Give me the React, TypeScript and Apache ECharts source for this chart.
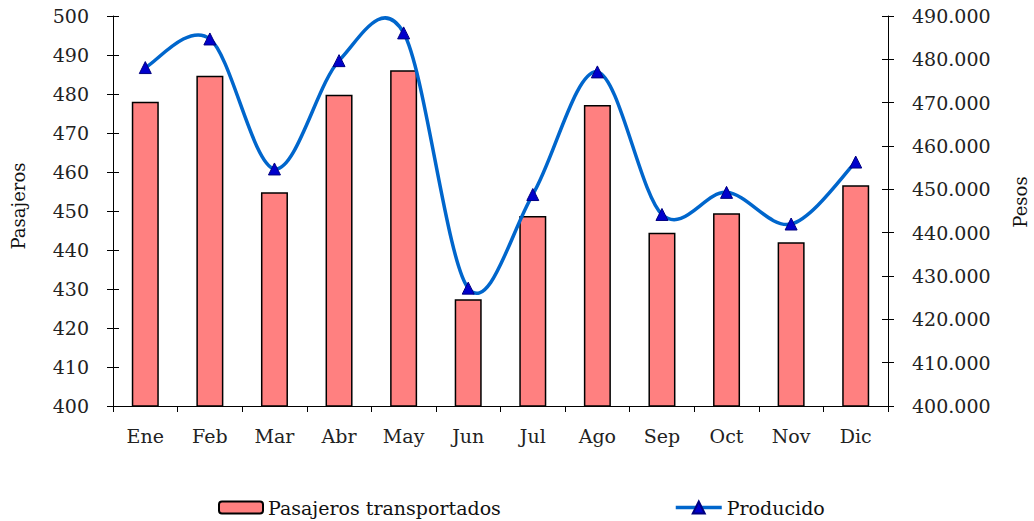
import React, { useEffect, useRef } from "react";
import * as echarts from "echarts";

const months = ["Ene", "Feb", "Mar", "Abr", "May", "Jun", "Jul", "Ago", "Sep", "Oct", "Nov", "Dic"];
const pasajeros = [478, 484.7, 454.8, 479.8, 486.1, 427.4, 448.7, 477.2, 444.4, 449.4, 442.0, 456.6];
const producido = [478100, 484700, 454700, 479700, 486100, 427200, 448800, 477100, 444200, 449300, 442000, 456300];
const leftTicks = { min: 400, max: 500, interval: 10 };
const rightTicks = { min: 400000, max: 490000, interval: 10000 };

const FONT = "DejaVu Serif";
const TXT = "#222";

function fmtThousands(v: number) {
  return String(Math.round(v)).replace(/\B(?=(\d{3})+(?!\d))/g, ".");
}

export default function App() {
  const ref = useRef<HTMLDivElement>(null);
  useEffect(() => {
    if (!ref.current) return;
    const chart = echarts.init(ref.current, null, { renderer: "svg" });
    const tickLabelStyle = { fontFamily: FONT, fontSize: 19, color: TXT };
    const option: any = {
      animation: false,
      backgroundColor: "#fff",
      grid: { left: 113, right: 146, top: 16, bottom: 115, outerBoundsMode: "none", containLabel: false },
      legend: [
        {
          left: 213,
          top: 493,
          itemWidth: 44,
          itemHeight: 12,
          textStyle: { fontFamily: FONT, fontSize: 19, color: "#111" },
          data: ["Pasajeros transportados"],
        },
        {
          left: 669,
          top: 493,
          itemWidth: 46,
          itemHeight: 15,
          textStyle: { fontFamily: FONT, fontSize: 19, color: "#111" },
          data: [{ name: "Producido", lineStyle: { width: 3.5, color: "#0066CC" } }],
        },
      ],
      xAxis: {
        type: "category",
        data: months,
        boundaryGap: true,
        axisLine: { lineStyle: { color: "#000", width: 1 } },
        axisTick: { show: true, length: 6, lineStyle: { color: "#000" } },
        axisLabel: { fontFamily: FONT, fontSize: 19, color: TXT, margin: 20 },
        splitLine: { show: false },
      },
      yAxis: [
        {
          type: "value",
          position: "left",
          min: leftTicks.min,
          max: leftTicks.max,
          interval: leftTicks.interval,
          name: "Pasajeros",
          nameLocation: "middle",
          nameGap: 86,
          nameTextStyle: { fontFamily: FONT, fontSize: 18, color: "#111", padding: [0, 0, 0, 10] },
          axisLine: { show: true, lineStyle: { color: "#000" } },
          axisTick: { show: true, length: 6, lineStyle: { color: "#000" } },
          axisLabel: { ...tickLabelStyle, margin: 24 },
          splitLine: { show: false },
        },
        {
          type: "value",
          position: "right",
          min: rightTicks.min,
          max: rightTicks.max,
          interval: rightTicks.interval,
          name: "Pesos",
          nameLocation: "middle",
          nameGap: 123,
          nameRotate: 90,
          nameTextStyle: {
            fontFamily: FONT,
            fontSize: 18,
            color: "#111",
            verticalAlign: "top",
            padding: [0, 0, 0, 18],
          },
          axisLine: { show: true, lineStyle: { color: "#000" } },
          axisTick: { show: true, length: 6, lineStyle: { color: "#000" } },
          axisLabel: { ...tickLabelStyle, margin: 24, formatter: (v: number) => fmtThousands(v) },
          splitLine: { show: false },
        },
        {
          type: "value",
          position: "left",
          min: leftTicks.min,
          max: leftTicks.max,
          interval: leftTicks.interval,
          axisLine: { show: false },
          axisTick: { show: true, inside: true, length: 6, lineStyle: { color: "#000" } },
          axisLabel: { show: false },
          splitLine: { show: false },
        },
        {
          type: "value",
          position: "right",
          min: rightTicks.min,
          max: rightTicks.max,
          interval: rightTicks.interval,
          axisLine: { show: false },
          axisTick: { show: true, inside: true, length: 6, lineStyle: { color: "#000" } },
          axisLabel: { show: false },
          splitLine: { show: false },
        },
      ],
      series: [
        {
          name: "Pasajeros transportados",
          type: "bar",
          yAxisIndex: 0,
          data: pasajeros,
          barWidth: 27,
          itemStyle: { color: "#FF8080", borderColor: "#000", borderWidth: 1.5 },
          z: 2,
        },
        {
          name: "ProducidoCurve",
          type: "custom",
          yAxisIndex: 1,
          data: producido.map((v, i) => [i, v]),
          encode: { x: 0, y: 1 },
          z: 3,
          silent: true,
          renderItem: (params: any, api: any) => {
            if (params.dataIndex !== 0) return { type: "group", children: [] };
            const pts = producido.map((v, i) => api.coord([i, v]));
            let d = `M${pts[0][0]},${pts[0][1]}`;
            for (let i = 0; i < pts.length - 1; i++) {
              const p0 = pts[i - 1] || pts[i];
              const p1 = pts[i];
              const p2 = pts[i + 1];
              const p3 = pts[i + 2] || pts[i + 1];
              const c1x = p1[0] + (p2[0] - p0[0]) / 6;
              const c1y = p1[1] + (p2[1] - p0[1]) / 6;
              const c2x = p2[0] - (p3[0] - p1[0]) / 6;
              const c2y = p2[1] - (p3[1] - p1[1]) / 6;
              d += ` C${c1x},${c1y} ${c2x},${c2y} ${p2[0]},${p2[1]}`;
            }
            return {
              type: "path",
              shape: { pathData: d },
              style: { fill: "none", stroke: "#0066CC", lineWidth: 3.5 },
            };
          },
        },
        {
          name: "Producido",
          type: "line",
          yAxisIndex: 1,
          data: producido,
          symbol: "triangle",
          symbolSize: 12,
          showSymbol: true,
          lineStyle: { width: 0, color: "#0066CC" },
          itemStyle: { color: "#0000CC", borderColor: "#000080", borderWidth: 1 },
          z: 4,
        },
      ],
    };
    chart.setOption(option);
    return () => chart.dispose();
  }, []);
  return <div ref={ref} style={{ position: "fixed", left: 0, top: 0, width: 1034, height: 521 }} />;
}
